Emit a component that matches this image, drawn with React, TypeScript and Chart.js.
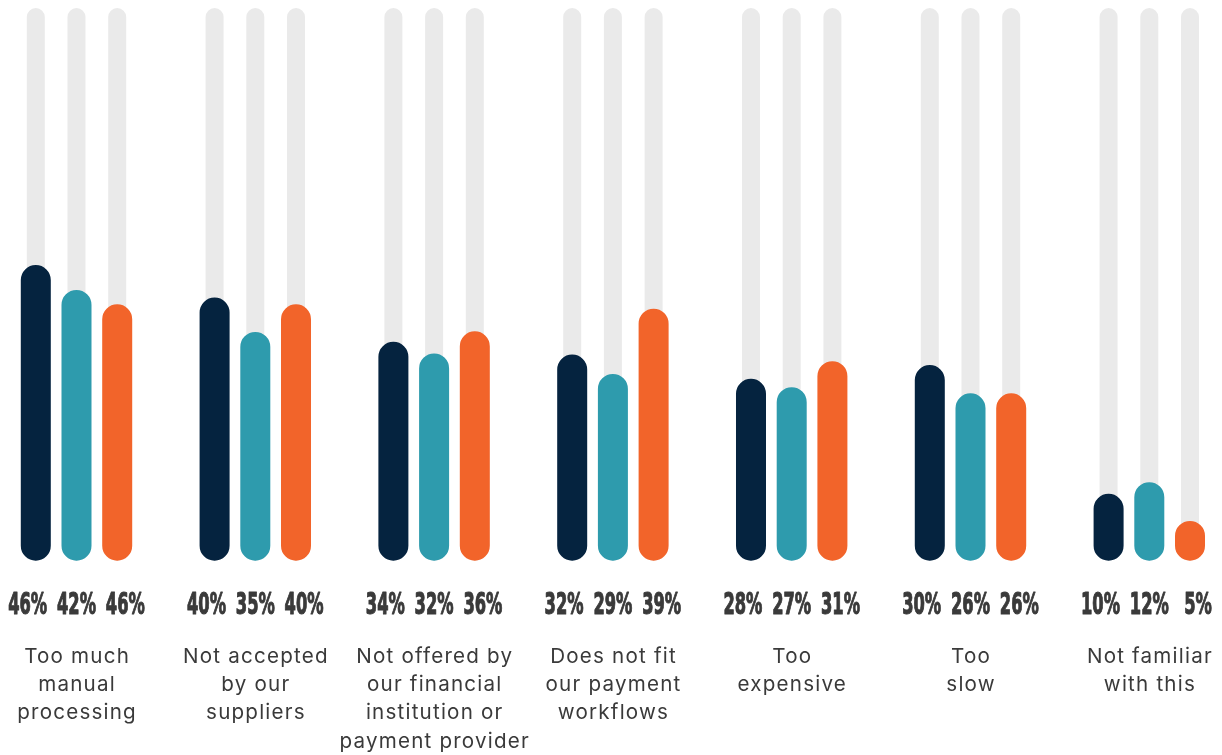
import React, { useEffect, useRef } from "react";
import { Chart, registerables } from "chart.js";

Chart.register(...registerables);

// ---- Data ----
const categoryLines: string[][] = [
  ["Too much", "manual", "processing"],
  ["Not accepted", "by our", "suppliers"],
  ["Not offered by", "our financial", "institution or", "payment provider"],
  ["Does not fit", "our payment", "workflows"],
  ["Too", "expensive"],
  ["Too", "slow"],
  ["Not familiar", "with this"],
];
const categories = categoryLines.map((l) => l.join(" "));

// bar heights as drawn (share of the full grey track)
const navyBars = [53.5, 47.6, 39.6, 37.3, 32.9, 35.4, 12.1];
const tealBars = [49.0, 41.4, 37.5, 33.8, 31.4, 30.3, 14.2];
const orangeBars = [46.4, 46.4, 41.5, 45.6, 36.1, 30.3, 7.2];

// printed percentages
const navyLabels = [46, 40, 34, 32, 28, 30, 10];
const tealLabels = [42, 35, 32, 29, 27, 26, 12];
const orangeLabels = [46, 40, 36, 39, 31, 26, 5];

// full-height background tracks
const track = [100, 100, 100, 100, 100, 100, 100];

const NAVY = "#05233F";
const TEAL = "#2E9BAD";
const ORANGE = "#F2642A";
const TRACK = "#EAEAEA";
const TEXT = "#3A3A3A";

const labelSets = [navyLabels, tealLabels, orangeLabels];

const labelPlugin = {
  id: "valueAndCategoryLabels",
  afterDatasetsDraw(chart: any) {
    const ctx: CanvasRenderingContext2D = chart.ctx;
    const xs = chart.scales.x;
    const bottom = chart.chartArea.bottom;
    ctx.save();
    // percentage labels
    ctx.font = 'bold 31px "Liberation Sans Narrow", "DejaVu Sans Condensed", "Liberation Sans", sans-serif';
    ctx.textAlign = "center";
    ctx.textBaseline = "alphabetic";
    const ref = ctx.measureText("46%").width;
    const sx = 39 / ref;
    ctx.fillStyle = TEXT;
    ctx.strokeStyle = TEXT;
    ctx.lineWidth = 1.1;
    ctx.lineJoin = "round";
    categoryLines.forEach((_, i) => {
      const cx = xs.getPixelForValue(i);
      labelSets.forEach((set, j) => {
        const px = cx + (j - 1) * 48.8;
        ctx.save();
        ctx.translate(px, bottom + 53.6);
        ctx.scale(sx, 1);
        const t = set[i] + "%";
        ctx.fillText(t, 0, 0);
        ctx.strokeText(t, 0, 0);
        ctx.restore();
      });
    });
    // category labels
    ctx.font = '20.6px Inter, "Open Sans", sans-serif';
    (ctx as any).letterSpacing = "1.2px";
    ctx.fillStyle = TEXT;
    categoryLines.forEach((lines, i) => {
      const cx = xs.getPixelForValue(i) + 0.6;
      lines.forEach((line, k) => {
        ctx.fillText(line, cx, bottom + 102 + k * 28.3);
      });
    });
    ctx.restore();
  },
};

export default function App() {
  const canvasRef = useRef<HTMLCanvasElement | null>(null);

  useEffect(() => {
    if (!canvasRef.current) return;
    const colored = [
      { label: "Navy", data: navyBars, color: NAVY, stack: "a" },
      { label: "Teal", data: tealBars, color: TEAL, stack: "b" },
      { label: "Orange", data: orangeBars, color: ORANGE, stack: "c" },
    ];
    const chart = new Chart(canvasRef.current, {
      type: "bar",
      data: {
        labels: categories,
        datasets: [
          ...colored.map((s) => ({
            label: s.label,
            data: s.data,
            stack: s.stack,
            backgroundColor: s.color,
            borderRadius: 100,
            borderSkipped: false,
            borderWidth: 0,
            barPercentage: 0.737,
            categoryPercentage: 0.683,
            order: 0,
            clip: false as any,
          })),
          ...colored.map((s) => ({
            label: s.label + " track",
            data: track,
            stack: s.stack,
            backgroundColor: TRACK,
            borderRadius: 100,
            borderSkipped: false,
            borderWidth: 0,
            barPercentage: 0.442,
            categoryPercentage: 0.683,
            order: 1,
            clip: false as any,
          })),
        ],
      },
      options: {
        animation: false,
        responsive: true,
        maintainAspectRatio: false,
        layout: { padding: { left: 76.5, right: 72.7, top: 8, bottom: 194.3 } },
        plugins: { legend: { display: false }, tooltip: { enabled: false } },
        scales: {
          x: { type: "category", offset: false, display: false, grid: { display: false } },
          y: { type: "linear", stacked: false, min: 0, max: 100, display: false, grid: { display: false } },
        },
      },
      plugins: [labelPlugin],
    } as any);
    return () => chart.destroy();
  }, []);

  return (
    <div style={{ position: "fixed", left: 0, top: 0, width: "100vw", height: "100vh", background: "#fff" }}>
      <canvas ref={canvasRef} />
    </div>
  );
}
